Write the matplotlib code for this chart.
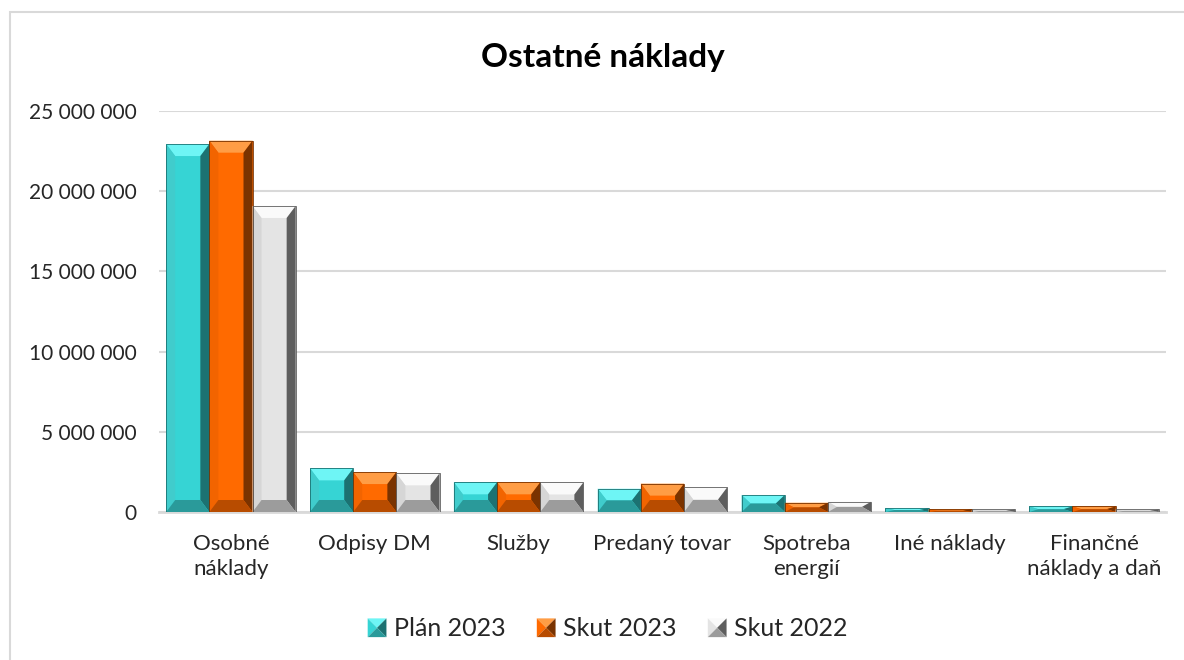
import matplotlib
matplotlib.use("Agg")
import matplotlib.pyplot as plt
from matplotlib.patches import Polygon, Rectangle
from matplotlib.legend_handler import HandlerBase

plt.rcParams["font.family"] = ["Lato", "DejaVu Sans"]

CATEGORIES = ["Osobné\nnáklady", "Odpisy DM", "Služby", "Predaný tovar",
              "Spotreba\nenergií", "Iné náklady", "Finančné\nnáklady a daň"]
SERIES = ["Plán 2023", "Skut 2023", "Skut 2022"]

PLAN_2023 = [22_940_000, 2_720_000, 1_850_000, 1_450_000, 1_060_000, 250_000, 350_000]
SKUT_2023 = [23_150_000, 2_490_000, 1_850_000, 1_770_000, 580_000, 170_000, 350_000]
SKUT_2022 = [19_080_000, 2_410_000, 1_840_000, 1_540_000, 640_000, 160_000, 160_000]

Y_TICKS = [0, 5_000_000, 10_000_000, 15_000_000, 20_000_000, 25_000_000]

# face, top, left, right, bottom
SHADES = {
    "Plán 2023": ("#36d4d4", "#6ef5f5", "#40cccc", "#1c7272", "#2a9a9a"),
    "Skut 2023": ("#ff6a00", "#ff9d45", "#f26400", "#7a3300", "#b84c00"),
    "Skut 2022": ("#e4e4e4", "#fafafa", "#d6d6d6", "#5e5e5e", "#9c9c9c"),
}

W, H = 1184, 660
fig = plt.figure(figsize=(W / 100, H / 100), dpi=100)
ax_l, ax_r, ax_t, ax_b = 159, 1166, 111, 512
ax = fig.add_axes([ax_l / W, 1 - ax_b / H, (ax_r - ax_l) / W, (ax_b - ax_t) / H])

# outer chart frame
fig.patches.append(Rectangle((10 / W, -0.1), 1.2, 1 - 12 / H + 0.1, transform=fig.transFigure,
                             fill=False, edgecolor="#d9d9d9", linewidth=1.5))

n = len(CATEGORIES)
ax.set_xlim(-0.5, n - 0.5)
ax.set_ylim(0, 25_000_000)

bar_w = 0.3
bevel_x_px = 9
bevel_y_px = 12
px_x = (ax_r - ax_l) / n          # pixels per x unit
px_y = (ax_b - ax_t) / 25_000_000  # pixels per y unit


def bevel_bar(x0, width, height, shades):
    face, top, left, right, bottom = shades
    bx = min(bevel_x_px / px_x, width / 2)
    by = min(bevel_y_px / px_y, height / 2)
    x1, y0, y1 = x0 + width, 0, height
    ax.add_patch(Rectangle((x0, y0), width, height, facecolor=face, edgecolor="none", zorder=3))
    polys = [
        ([(x0, y1), (x1, y1), (x1 - bx, y1 - by), (x0 + bx, y1 - by)], top),
        ([(x0, y0), (x0, y1), (x0 + bx, y1 - by), (x0 + bx, y0 + by)], left),
        ([(x1, y0), (x1, y1), (x1 - bx, y1 - by), (x1 - bx, y0 + by)], right),
        ([(x0, y0), (x1, y0), (x1 - bx, y0 + by), (x0 + bx, y0 + by)], bottom),
    ]
    for pts, c in polys:
        ax.add_patch(Polygon(pts, closed=True, facecolor=c, edgecolor="none", zorder=3))
    ax.add_patch(Rectangle((x0, y0), width, height, fill=False, edgecolor=right,
                           linewidth=0.6, zorder=4))


for s_idx, (name, vals) in enumerate(zip(SERIES, [PLAN_2023, SKUT_2023, SKUT_2022])):
    for i, v in enumerate(vals):
        x0 = i + (s_idx - 1.5) * bar_w
        bevel_bar(x0, bar_w, v, SHADES[name])

ax.set_yticks(Y_TICKS)
ax.set_yticklabels([f"{t:,}".replace(",", " ") for t in Y_TICKS])
ax.set_xticks(range(n))
ax.set_xticklabels(CATEGORIES, linespacing=1.3)
ax.tick_params(axis="both", length=0, colors="#262626")
ax.tick_params(axis="y", pad=16, labelsize=15)
ax.tick_params(axis="x", pad=16, labelsize=16)
ax.grid(axis="y", color="#d9d9d9", linewidth=1.5, zorder=0)
ax.set_axisbelow(True)
for side in ["top", "right", "left"]:
    ax.spines[side].set_visible(False)
ax.spines["bottom"].set_color("#d9d9d9")
ax.spines["bottom"].set_linewidth(2)
ax.spines["bottom"].set_zorder(2)

fig.text(603 / W, 1 - 57 / H, "Ostatné náklady", ha="center", va="center",
         fontsize=24, fontweight="bold", color="black")


class PyramidHandler(HandlerBase):
    def create_artists(self, legend, orig_handle, xdescent, ydescent, width, height, fontsize, trans):
        face, top, left, right, bottom = SHADES[orig_handle]
        s = fontsize * 0.75
        x0 = -xdescent + width - s
        y0 = -ydescent + (height - s) / 2
        cx, cy = x0 + s / 2, y0 + s / 2
        pts = [(x0, y0), (x0 + s, y0), (x0 + s, y0 + s), (x0, y0 + s)]
        arts = []
        for (a, b), c in zip([(3, 2), (0, 3), (2, 1), (1, 0)], [top, face, right, bottom]):
            arts.append(Polygon([pts[a], pts[b], (cx, cy)], closed=True, facecolor=c,
                                edgecolor="none", transform=trans))
        return arts


leg = fig.legend(SERIES, SERIES, handler_map={str: PyramidHandler()}, loc="center",
                 bbox_to_anchor=(607 / W, 1 - 629 / H), ncol=3, frameon=False,
                 fontsize=18, handlelength=0.8, handletextpad=0.3, columnspacing=1.2)
for t in leg.get_texts():
    t.set_color("#262626")

fig.savefig("out.png", dpi=100)
